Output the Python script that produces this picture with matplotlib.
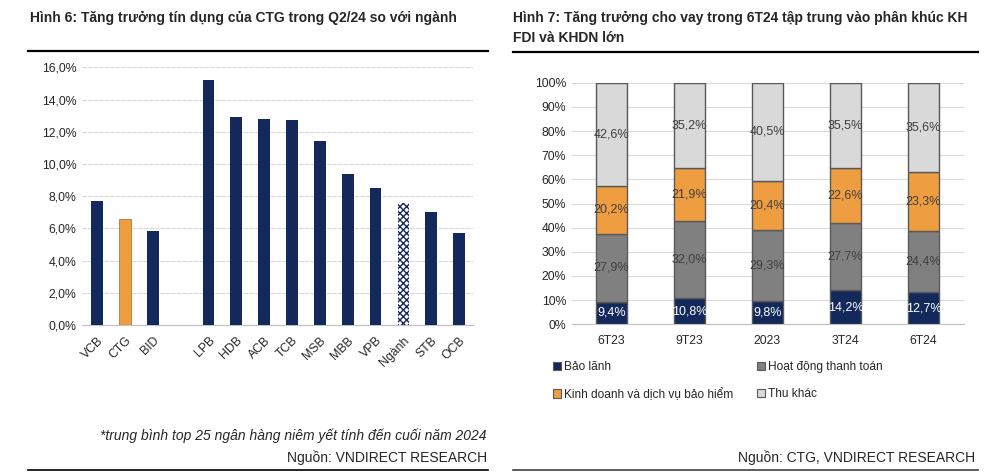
import matplotlib.pyplot as plt
from matplotlib.patches import Patch
import numpy as np

plt.rcParams['font.family'] = ['Liberation Sans', 'DejaVu Sans']

# ---- Hinh 6 data ----
ngan_hang = ["VCB", "CTG", "BID", "", "LPB", "HDB", "ACB", "TCB", "MSB", "MBB", "VPB", "Ngành", "STB", "OCB"]
tang_truong = [7.7, 6.6, 5.85, None, 15.2, 12.9, 12.8, 12.7, 11.4, 9.4, 8.5, 7.6, 7.0, 5.7]
y_ticks6 = [0, 2, 4, 6, 8, 10, 12, 14, 16]

# ---- Hinh 7 data ----
ky = ["6T23", "9T23", "2023", "3T24", "6T24"]
bao_lanh = [9.4, 10.8, 9.8, 14.2, 12.7]
thanh_toan = [27.9, 32.0, 29.3, 27.7, 24.4]
bao_hiem = [20.2, 21.9, 20.4, 22.6, 23.3]
thu_khac = [42.6, 35.2, 40.5, 35.5, 35.6]
ten_nhom = ["Bảo lãnh", "Hoạt động thanh toán", "Kinh doanh và dịch vụ bảo hiểm", "Thu khác"]

navy = "#13295B"
orange = "#EE9D40"
gray = "#808080"
lgray = "#D9D9D9"
grid_c = "#D9D9D9"
txt = "#262626"

fig = plt.figure(figsize=(10, 4.73), dpi=100)

def fy(px):
    return 1 - px / 473.0

# ---------- left chart ----------
ax1 = fig.add_axes([0.082, fy(325), 0.391, (325 - 67.3) / 473])
x = np.arange(len(ngan_hang))
for i, v in enumerate(tang_truong):
    if v is None:
        continue
    if ngan_hang[i] == "CTG":
        ax1.bar(i, v, 0.42, color=orange, edgecolor="#B07A3A", linewidth=0.6, zorder=3)
    elif ngan_hang[i] == "Ngành":
        ax1.bar(i, v, 0.42, color="white", edgecolor=navy, hatch="xxxxx", linewidth=0, zorder=3)
    else:
        ax1.bar(i, v, 0.42, color=navy, zorder=3)
ax1.set_xlim(-0.54, 13.5)
ax1.set_ylim(0, 16)
ax1.set_yticks(y_ticks6)
ax1.set_yticklabels([("%.1f%%" % t).replace(".", ",") for t in y_ticks6], fontsize=8.8, color=txt)
ax1.set_xticks(x)
ax1.set_xticklabels(ngan_hang, rotation=45, ha="right", rotation_mode="anchor", fontsize=8.8, color=txt)
ax1.tick_params(length=0, pad=4)
ax1.tick_params(axis="x", pad=7)
ax1.grid(axis="y", color=grid_c, linewidth=0.8, linestyle=(0, (4, 1)))
ax1.set_axisbelow(True)
for s in ["top", "right", "left"]:
    ax1.spines[s].set_visible(False)
ax1.spines["bottom"].set_color("#BFBFBF")

# ---------- right chart ----------
ax2 = fig.add_axes([0.5717, fy(324.3), 0.3923, 241.6 / 473])
data = np.array([bao_lanh, thanh_toan, bao_hiem, thu_khac])
pct = data / data.sum(axis=0) * 100
mau = [navy, gray, orange, lgray]
xk = np.arange(len(ky))
day = np.zeros(len(ky))
for j in range(4):
    ax2.bar(xk, pct[j], 0.4, bottom=day, color=mau[j], edgecolor="#595959", linewidth=1, zorder=3)
    for i in range(len(ky)):
        ax2.text(xk[i], day[i] + pct[j][i] / 2, ("%.1f%%" % data[j][i]).replace(".", ","),
                 ha="center", va="center", fontsize=9,
                 color="white" if j == 0 else "#404040", zorder=4)
    day += pct[j]
ax2.set_xlim(-0.51, 4.52)
ax2.set_ylim(0, 100)
ax2.set_yticks(np.arange(0, 101, 10))
ax2.set_yticklabels(["%d%%" % t for t in range(0, 101, 10)], fontsize=8.8, color=txt)
ax2.set_xticks(xk)
ax2.set_xticklabels(ky, fontsize=8.8, color=txt)
ax2.tick_params(length=0, pad=4)
ax2.tick_params(axis="x", pad=8)
ax2.grid(axis="y", color=grid_c, linewidth=0.8)
ax2.set_axisbelow(True)
for s in ["top", "right", "left"]:
    ax2.spines[s].set_visible(False)
ax2.spines["bottom"].set_color("#BFBFBF")

handles = [Patch(facecolor=mau[k], edgecolor="#595959", linewidth=0.8) for k in range(4)]
order = [0, 2, 1, 3]
fig.legend([handles[k] for k in order], [ten_nhom[k] for k in order], ncol=2,
           loc="upper left", bbox_to_anchor=(0.553, fy(361)), frameon=False, fontsize=8.6,
           handlelength=0.7, handleheight=0.7, handletextpad=0.2, columnspacing=2.0,
           labelspacing=1.25, labelcolor=txt, borderaxespad=0, borderpad=0)

# ---------- titles, notes, rules ----------
fig.text(0.030, fy(18), "Hình 6: Tăng trưởng tín dụng của CTG trong Q2/24 so với ngành",
         fontsize=10, fontweight="bold", color=txt, va="center")
fig.text(0.513, fy(18), "Hình 7: Tăng trưởng cho vay trong 6T24 tập trung vào phân khúc KH",
         fontsize=10, fontweight="bold", color=txt, va="center")
fig.text(0.513, fy(38), "FDI và KHDN lớn",
         fontsize=10, fontweight="bold", color=txt, va="center")
fig.add_artist(plt.Line2D([0.028, 0.488], [fy(51), fy(51)], color="black", linewidth=1.6))
fig.add_artist(plt.Line2D([0.513, 0.978], [fy(52), fy(52)], color="black", linewidth=1.6))

fig.text(0.487, fy(436), "*trung bình top 25 ngân hàng niêm yết tính đến cuối năm 2024",
         fontsize=10, style="italic", color=txt, ha="right", va="center")
fig.text(0.487, fy(458), "Nguồn: VNDIRECT RESEARCH", fontsize=10, color=txt, ha="right", va="center")
fig.text(0.975, fy(458), "Nguồn: CTG, VNDIRECT RESEARCH", fontsize=10, color=txt, ha="right", va="center")
fig.add_artist(plt.Line2D([0.028, 0.488], [fy(470), fy(470)], color="black", linewidth=1.2))
fig.add_artist(plt.Line2D([0.513, 0.978], [fy(470), fy(470)], color="#404040", linewidth=1.2))

fig.savefig("out.png", dpi=100, facecolor="white")
